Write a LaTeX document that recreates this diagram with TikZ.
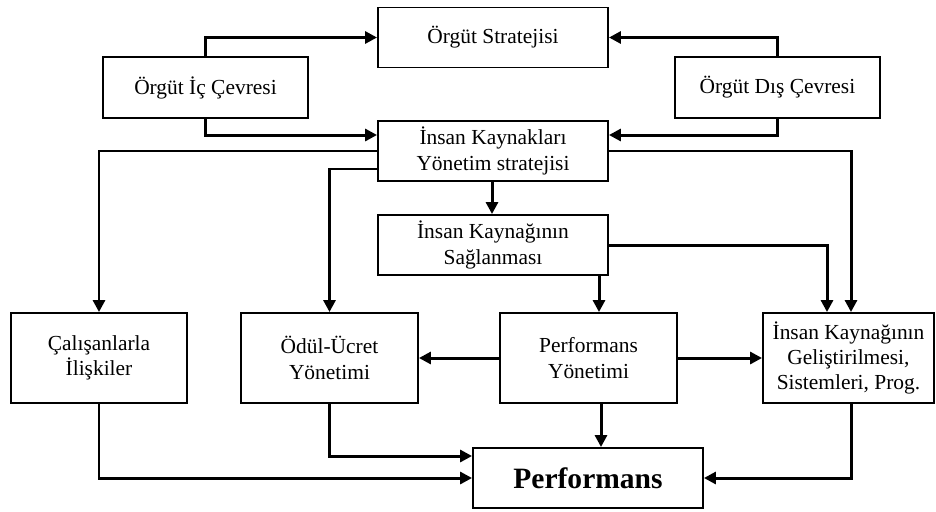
\documentclass[tikz,border=0pt]{standalone}
\usepackage{fontspec}
\setmainfont{Liberation Serif}
\usetikzlibrary{arrows.meta,calc}

\tikzset{
  kutu/.style={draw,line width=1.1pt,inner sep=0pt,align=center,font=\fontsize{12.2}{14.4}\selectfont},
  genis/.style={minimum width=4.6cm,minimum height=1.2cm},
  ok/.style={->,line width=1.7pt},
}

\begin{document}
\begin{tikzpicture}[>={Triangle[length=0.24cm,width=0.24cm]},x=0.02cm,y=-0.02cm]
  \useasboundingbox (0,0) rectangle (936,511);
  % ust kisim
  \node[kutu,genis] (strateji) at (493,37.5) {Örgüt Stratejisi};
  \node[kutu,minimum width=4.1cm,minimum height=1.22cm] (iccevre) at (205.5,87.5) {Örgüt İç Çevresi};
  \node[kutu,minimum width=4.1cm,minimum height=1.22cm] (discevre) at (777.5,87.5) {Örgüt Dış Çevresi};
  \node[kutu,genis] (iky) at (493,151) {İnsan Kaynakları\\Yönetim stratejisi};
  \node[kutu,genis] (saglama) at (493,245) {İnsan Kaynağının\\Sağlanması};
  % alt kutular
  \node[kutu,minimum width=3.52cm,minimum height=1.8cm] (calisan) at (99,358) {Çalışanlarla\\İlişkiler};
  \node[kutu,minimum width=3.54cm,minimum height=1.8cm] (odul) at (329.5,358) {Ödül-Ücret\\Yönetimi};
  \node[kutu,minimum width=3.54cm,minimum height=1.8cm] (perfyon) at (588.5,358) {Performans\\Yönetimi};
  \node[kutu,minimum width=3.42cm,minimum height=1.8cm] (gelistirme) at (848.5,358) {İnsan Kaynağının\\Geliştirilmesi,\\Sistemleri, Prog.};
  \node[kutu,genis,font=\fontsize{16.8}{19}\selectfont\bfseries] (performans) at (588,478) {Performans};
  % oklar
  \draw[ok] (iccevre.north) |- (strateji.west);
  \draw[ok] (iccevre.south) |- ([yshift=0.32cm]iky.west);
  \draw[ok] (discevre.north) |- (strateji.east);
  \draw[ok] (discevre.south) |- ([yshift=0.32cm]iky.east);
  \draw[ok] (iky.west) -| (calisan.north);
  \draw[ok] ([yshift=-0.36cm]iky.west) -| (odul.north);
  \draw[ok] (iky.south -| 492,0) -- (saglama.north -| 492,0);
  \draw[ok] (iky.east) -| ([xshift=0.05cm]gelistirme.north);
  \draw[ok] (saglama.east) -| ([xshift=-0.43cm]gelistirme.north);
  \draw[ok] (saglama.south -| 599,0) -- (perfyon.north -| 599,0);
  \draw[ok] (perfyon.west) -- (odul.east);
  \draw[ok] (perfyon.east) -- (gelistirme.west);
  \draw[ok] (perfyon.south -| 601,0) -- (performans.north -| 601,0);
  \draw[ok] (calisan.south) |- (performans.west);
  \draw[ok] (odul.south) |- ([yshift=0.44cm]performans.west);
  \draw[ok] ([xshift=0.05cm]gelistirme.south) |- (performans.east);
\end{tikzpicture}
\end{document}
